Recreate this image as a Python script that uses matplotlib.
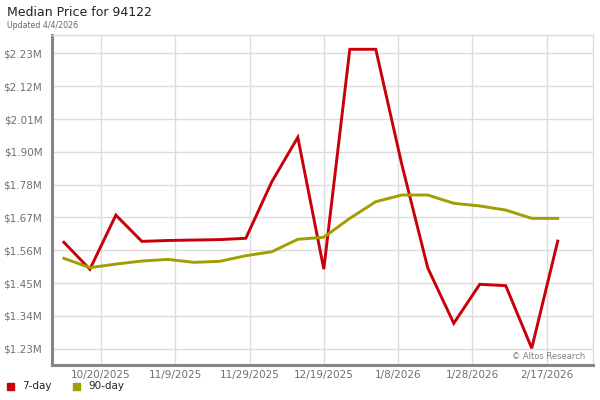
import matplotlib
matplotlib.use("Agg")
import matplotlib.pyplot as plt
import matplotlib.dates as mdates
import numpy as np
from datetime import date, timedelta

# ---- data ----
start_date = date(2025, 10, 10)
n_weeks = 20
dates = [start_date + timedelta(days=7 * i) for i in range(n_weeks)]

price_7day = [1.589, 1.4975, 1.681, 1.592, 1.595, 1.5966, 1.598, 1.6025, 1.794, 1.9445,
              1.498, 2.2426, 2.2426, 1.853, 1.502, 1.3145, 1.4466, 1.442, 1.230, 1.593]
price_90day = [1.5347, 1.503, 1.515, 1.5255, 1.531, 1.521, 1.5245, 1.5435, 1.557, 1.599,
               1.606, 1.670, 1.7265, 1.749, 1.749, 1.721, 1.712, 1.698, 1.670, 1.670]

ytick_start = 1.2285
ytick_step = 0.1111
ytick_labels = ["$1.23M", "$1.34M", "$1.45M", "$1.56M", "$1.67M", "$1.78M",
                "$1.90M", "$2.01M", "$2.12M", "$2.23M"]
xtick_dates = [date(2025, 10, 20), date(2025, 11, 9), date(2025, 11, 29), date(2025, 12, 19),
               date(2026, 1, 8), date(2026, 1, 28), date(2026, 2, 17)]
xtick_labels = ["10/20/2025", "11/9/2025", "11/29/2025", "12/19/2025",
                "1/8/2026", "1/28/2026", "2/17/2026"]

title = "Median Price for 94122"
subtitle = "Updated 4/4/2026"
series_names = ["7-day", "90-day"]
colors = ["#c8000a", "#a29d00"]

plt.rcParams['font.family'] = ['DejaVu Sans']

fig = plt.figure(figsize=(6, 4), dpi=100)
W, H = 600, 400
L, R, T, B = 52, 593, 35.3, 364.5
ax = fig.add_axes([L / W, 1 - B / H, (R - L) / W, (B - T) / H])

x = mdates.date2num(dates)
ax.plot(x, price_7day, color=colors[0], lw=2.1, solid_joinstyle='miter', zorder=3)
ax.plot(x, price_90day, color=colors[1], lw=2.1, zorder=3)

yticks = [ytick_start + ytick_step * i for i in range(len(ytick_labels))]
ax.set_yticks(yticks)
ax.set_yticklabels(ytick_labels)
xt = mdates.date2num(xtick_dates)
ax.set_xticks(xt)
ax.set_xticklabels(xtick_labels)

ax.set_ylim(1.175, 2.290)
ax.set_xlim(xt[0] - 13.2, xt[-1] + 12.5)

ax.grid(True, color="#dcdcdc", lw=1.0, zorder=0)
ax.tick_params(axis='both', length=0, labelsize=7.5, labelcolor="#707070")
ax.tick_params(axis='y', pad=7)
ax.tick_params(axis='x', pad=4)

for s in ['top', 'right']:
    ax.spines[s].set_color("#dcdcdc")
    ax.spines[s].set_linewidth(1.0)
for s in ['left', 'bottom']:
    ax.spines[s].set_color("#868686")
    ax.spines[s].set_linewidth(2.2)
    ax.spines[s].set_capstyle('projecting')

ax.text(0.985, 0.012, "\u00a9 Altos Research", transform=ax.transAxes, ha='right', va='bottom',
        fontsize=6, color="#808080")

fig.text(7 / W, 1 - 13 / H, title, fontsize=9, color="#222222", va='center', ha='left')
fig.text(7 / W, 1 - 25.5 / H, subtitle, fontsize=5.7, color="#666666", va='center', ha='left')

# legend
leg_y = 1 - 386 / H
fig.patches.append(plt.Rectangle((7 / W, leg_y - 3.5 / H), 7 / W, 7 / H, transform=fig.transFigure,
                                 color=colors[0], figure=fig))
fig.text(22 / W, leg_y, series_names[0], fontsize=7.5, color="#222222", va='center')
fig.patches.append(plt.Rectangle((73 / W, leg_y - 3.5 / H), 7 / W, 7 / H, transform=fig.transFigure,
                                 color=colors[1], figure=fig))
fig.text(88 / W, leg_y, series_names[1], fontsize=7.5, color="#222222", va='center')

fig.savefig("out.png", dpi=100)
